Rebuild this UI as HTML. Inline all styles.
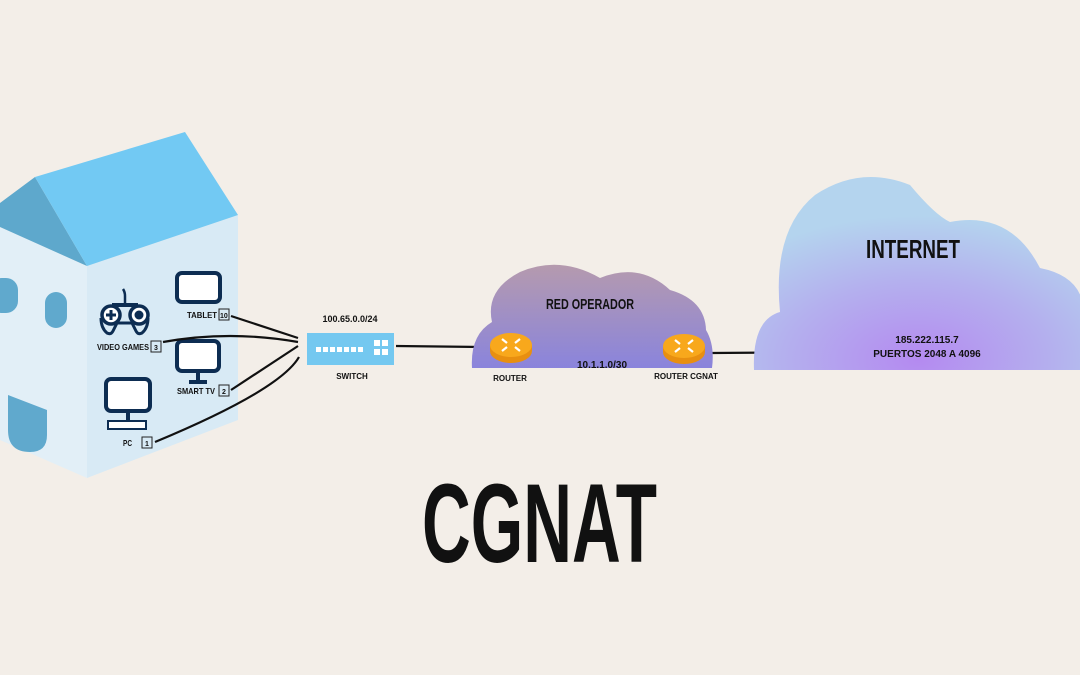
<!DOCTYPE html>
<html><head><meta charset="utf-8"><style>
html,body{margin:0;padding:0;background:#f3eee8;}
svg{display:block;}
text{font-family:"Liberation Sans",sans-serif;fill:#111;}
</style></head><body>
<svg width="1080" height="675" viewBox="0 0 1080 675" xmlns="http://www.w3.org/2000/svg">
<defs>
<radialGradient id="ig" cx="0.5" cy="0.95" r="0.75">
<stop offset="0" stop-color="#b48af0"/><stop offset="0.55" stop-color="#b4b0ee"/><stop offset="1" stop-color="#b4d4ee"/>
</radialGradient>
<linearGradient id="rg" x1="0" y1="0" x2="0" y2="1">
<stop offset="0" stop-color="#b59aae"/><stop offset="1" stop-color="#8a84dc"/>
</linearGradient>
<g id="rt">
<path d="M-21,0 v6 a21,12 0 0 0 42,0 v-6 z" fill="#e88f10"/>
<ellipse cx="0" cy="0" rx="21" ry="12" fill="#f8a81c"/>
<g stroke="#fff" stroke-width="2.2">
<line x1="-9" y1="-6" x2="-4" y2="-2"/><line x1="9" y1="-6" x2="4" y2="-2"/>
<line x1="-9" y1="6" x2="-4" y2="2"/><line x1="9" y1="6" x2="4" y2="2"/>
</g>
</g>
</defs>
<rect width="1080" height="675" fill="#f3eee8"/>

<!-- house -->
<polygon points="0,227 87,266 87,478 0,440" fill="#e2eff7"/>
<polygon points="87,266 238,215 238,420 87,478" fill="#d8eaf5"/>
<polygon points="0,203 35,177 87,266 0,227" fill="#5ea8cc"/>
<polygon points="35,177 185,132 238,215 87,266" fill="#72c9f3"/>
<rect x="-10" y="278" width="28" height="35" rx="12" fill="#60a9cd"/>
<rect x="45" y="292" width="22" height="36" rx="11" fill="#60a9cd"/>
<path d="M8,395 L47,410 L47,435 Q47,452 30,452 Q8,452 8,430 Z" fill="#60a9cd"/>

<!-- icons -->
<g fill="none" stroke="#0d2d52" stroke-width="4">
<rect x="177" y="273" width="43" height="29" rx="5" fill="#fff"/>
<rect x="177" y="341" width="42" height="30" rx="5" fill="#fff"/>
<line x1="198" y1="372" x2="198" y2="381"/><line x1="189" y1="382" x2="207" y2="382"/>
<rect x="106" y="379" width="44" height="32" rx="5" fill="#fff"/>
<line x1="128" y1="412" x2="128" y2="420"/>
<rect x="108" y="421" width="38" height="8" fill="#fff" stroke-width="2"/>
<path d="M112,305 h26" stroke-width="4"/>
<path d="M101,318 q0,10 6,15 q4,2 6,-2 l4,-8" stroke-width="3"/>
<path d="M148,318 q0,10 -6,15 q-4,2 -6,-2 l-4,-8" stroke-width="3"/>
<path d="M115,323 h19" stroke-width="3"/>
<circle cx="111" cy="315" r="9" fill="#fff" stroke-width="3.5"/>
<circle cx="139" cy="315" r="9" fill="#fff" stroke-width="3.5"/>
<path d="M125,304 v-8 q0,-4 -2,-7" stroke-width="2.5"/>
</g>
<path d="M111,310 v10 M106,315 h10" stroke="#0d2d52" stroke-width="3"/>
<circle cx="139" cy="315" r="4.5" fill="#0d2d52"/>
<g font-size="8.5" font-weight="bold">
<text x="187" y="318" textLength="30" lengthAdjust="spacingAndGlyphs">TABLET</text>
<text x="97" y="350" textLength="52" lengthAdjust="spacingAndGlyphs">VIDEO GAMES</text>
<text x="177" y="394" textLength="38" lengthAdjust="spacingAndGlyphs">SMART TV</text>
<text x="123" y="446" textLength="9" lengthAdjust="spacingAndGlyphs">PC</text>
</g>
<g fill="none" stroke="#222" stroke-width="1"><rect x="219" y="309" width="10" height="11"/><rect x="151" y="341" width="10" height="11"/><rect x="219" y="385" width="10" height="11"/><rect x="142" y="437" width="10" height="11"/></g>
<g font-size="7" font-weight="bold"><text x="220" y="318">10</text><text x="154" y="350">3</text><text x="222" y="394">2</text><text x="145" y="446">1</text></g>

<!-- connectors -->
<g fill="none" stroke="#111" stroke-width="2.2">
<path d="M231,316 L298,338"/>
<path d="M163,342 Q230,330 298,342"/>
<path d="M231,390 L298,346"/>
<path d="M155,442 Q280,390 299,357"/>
<path d="M396,346 L482,347"/>
<path d="M532,346 L613,346 L565,352 L665,352"/>
<path d="M712,353 L858,352"/>
</g>

<!-- switch -->
<rect x="307" y="333" width="87" height="32" fill="#74c8f0"/>
<g fill="#fff">
<rect x="316" y="347" width="5" height="5"/><rect x="323" y="347" width="5" height="5"/><rect x="330" y="347" width="5" height="5"/><rect x="337" y="347" width="5" height="5"/><rect x="344" y="347" width="5" height="5"/><rect x="351" y="347" width="5" height="5"/><rect x="358" y="347" width="5" height="5"/>
<rect x="374" y="340" width="6" height="6"/><rect x="382" y="340" width="6" height="6"/><rect x="374" y="349" width="6" height="6"/><rect x="382" y="349" width="6" height="6"/>
</g>
<text x="350" y="322" font-size="9" font-weight="bold" text-anchor="middle">100.65.0.0/24</text>
<text x="352" y="379" font-size="8" font-weight="bold" text-anchor="middle">SWITCH</text>

<!-- red operador cloud -->
<path d="M472,368 Q470,335 492,322 Q485,290 520,272 Q560,255 600,278 Q640,262 670,290 Q705,300 706,330 Q715,345 712,368 Z" fill="url(#rg)"/>
<text x="590" y="309" font-size="15" font-weight="bold" text-anchor="middle" textLength="88" lengthAdjust="spacingAndGlyphs">RED OPERADOR</text>
<use href="#rt" x="511" y="345"/>
<use href="#rt" x="684" y="346"/>
<text x="510" y="381" font-size="8" font-weight="bold" text-anchor="middle">ROUTER</text>
<text x="686" y="379" font-size="8" font-weight="bold" text-anchor="middle">ROUTER CGNAT</text>
<text x="602" y="368" font-size="10" font-weight="bold" text-anchor="middle">10.1.1.0/30</text>

<!-- internet cloud -->
<path d="M754,370 Q752,320 780,312 Q772,230 815,195 Q860,165 910,185 Q935,215 950,222 Q1010,210 1040,268 Q1075,275 1082,300 L1082,370 Z" fill="url(#ig)"/>
<text x="913" y="258" font-size="26" font-weight="bold" text-anchor="middle" textLength="94" lengthAdjust="spacingAndGlyphs">INTERNET</text>
<text x="927" y="343" font-size="10" font-weight="bold" text-anchor="middle">185.222.115.7</text>
<text x="927" y="357" font-size="10" font-weight="bold" text-anchor="middle">PUERTOS 2048 A 4096</text>

<text x="422" y="562" font-size="112" font-weight="bold" textLength="235" lengthAdjust="spacingAndGlyphs">CGNAT</text>
</svg>
</body></html>
